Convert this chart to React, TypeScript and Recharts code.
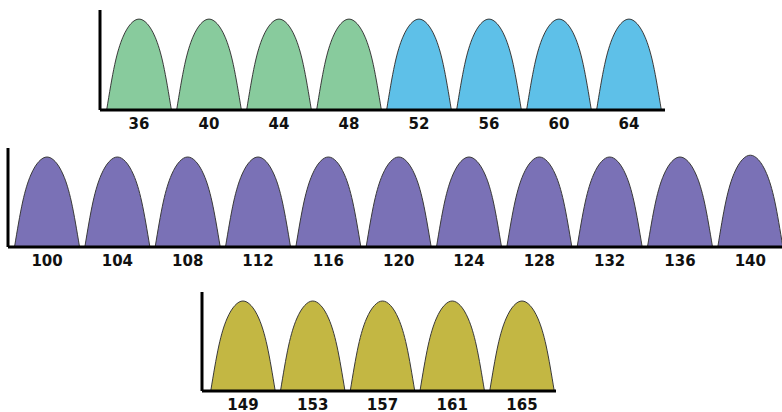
import { AreaChart, Area, XAxis, YAxis } from 'recharts';

// channel numbers and peak levels
const lowChannels = [36, 40, 44, 48, 52, 56, 60, 64];
const lowPeaks = [1, 1, 1, 1, 1, 1, 1, 1];
const midChannels = [100, 104, 108, 112, 116, 120, 124, 128, 132, 136, 140];
const midPeaks = [1, 1, 1, 1, 1, 1, 1, 1, 1, 1, 1.02];
const highChannels = [149, 153, 157, 161, 165];
const highPeaks = [1, 1, 1, 1, 1];

// outline of one hump as measured on the picture (offset in half-widths, level in peak units)
const profileOffset = [-1, -0.75, -0.5, -0.25, 0, 0.25, 0.5, 0.75, 1];
const profileLevel = [0, 0.5, 0.8, 0.95, 1, 0.95, 0.8, 0.5, 0];

const HALF = 1.85;

function buildRows(channels: number[], peaks: number[]) {
  const rows: Record<string, number>[] = [];
  channels.forEach((ch, i) => {
    const key = `c${ch}`;
    profileOffset.forEach((off, j) => {
      rows.push({ x: ch + off * HALF, [key]: profileLevel[j] * peaks[i] });
    });
  });
  return rows;
}

const tickStyle = { fontFamily: 'DejaVu Sans', fontWeight: 'bold', fontSize: 15, fill: '#111' };
const axisLine = { stroke: '#000', strokeWidth: 3 };

interface RowProps {
  channels: number[];
  peaks: number[];
  colors: string[];
  domain: [number, number];
  left: number;
  top: number;
  width: number;
  height: number;
}

function HumpRow({ channels, peaks, colors, domain, left, top, width, height }: RowProps) {
  const rows = buildRows(channels, peaks);
  return (
    <div style={{ position: 'absolute', left: 0, top }}>
      <AreaChart width={width} height={height} data={rows} margin={{ top: 10, right: 0, left: left - 2, bottom: 0 }}>
        <XAxis
          type="number"
          dataKey="x"
          domain={domain}
          allowDataOverflow
          ticks={channels}
          interval={0}
          tickLine={false}
          axisLine={axisLine}
          tick={tickStyle}
          height={30}
        />
        <YAxis domain={[0, 1.1]} width={2} tick={false} tickLine={false} axisLine={axisLine} />
        {channels.map((ch, i) => (
          <Area
            key={ch}
            type="natural"
            dataKey={`c${ch}`}
            stroke="#3a3a3a"
            strokeWidth={1}
            fill={colors[i]}
            fillOpacity={1}
            isAnimationActive={false}
            dot={false}
            activeDot={false}
          />
        ))}
      </AreaChart>
    </div>
  );
}

const green = '#88cb9d';
const blue = '#5ec0e8';
const purple = '#7a71b6';
const olive = '#c3b743';

export default function App() {
  return (
    <div style={{ position: 'fixed', left: 0, top: 0, width: 782, height: 412, overflow: 'hidden', background: '#fff' }}>
      <HumpRow
        channels={lowChannels}
        peaks={lowPeaks}
        colors={[green, green, green, green, blue, blue, blue, blue]}
        domain={[33.77, 66.06]}
        left={100}
        top={0}
        width={665}
        height={140}
      />
      <HumpRow
        channels={midChannels}
        peaks={midPeaks}
        colors={midChannels.map(() => purple)}
        domain={[97.78, 142.2]}
        left={8}
        top={138}
        width={789}
        height={139}
      />
      <HumpRow
        channels={highChannels}
        peaks={highPeaks}
        colors={highChannels.map(() => olive)}
        domain={[146.65, 166.95]}
        left={202}
        top={282}
        width={556}
        height={139}
      />
    </div>
  );
}
